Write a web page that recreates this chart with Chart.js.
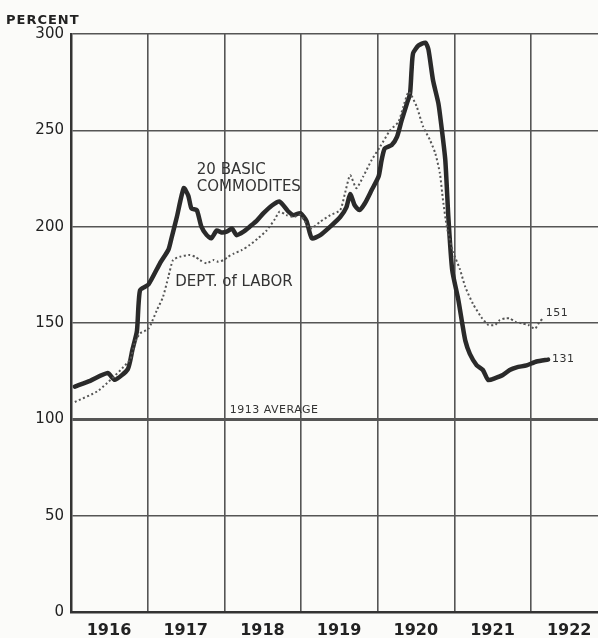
<!DOCTYPE html>
<html>
<head>
<meta charset="utf-8">
<script src="https://cdn.jsdelivr.net/npm/chart.js@4.4.1/dist/chart.umd.min.js"></script>
<style>
  html, body { margin: 0; padding: 0; background: #fbfbf9; }
  #wrap { width: 598px; height: 638px; overflow: hidden; }
</style>
</head>
<body>
<div id="wrap"><canvas id="c" width="598" height="638"></canvas></div>
<script>
// ---- Data ----
const yearTicks = [1916, 1917, 1918, 1919, 1920, 1921, 1922];
const valueTicks = [0, 50, 100, 150, 200, 250, 300];

const commoditiesX = [1916.05, 1916.25, 1916.48, 1916.57, 1916.74, 1916.80, 1916.86, 1916.90, 1917.01, 1917.16, 1917.27, 1917.31, 1917.38, 1917.47, 1917.53, 1917.57, 1917.64, 1917.70, 1917.77, 1917.83, 1917.90, 1917.96, 1918.03, 1918.10, 1918.16, 1918.25, 1918.33, 1918.42, 1918.51, 1918.62, 1918.72, 1918.83, 1918.90, 1918.99, 1919.07, 1919.14, 1919.25, 1919.38, 1919.51, 1919.59, 1919.64, 1919.70, 1919.76, 1919.83, 1919.92, 1920.01, 1920.05, 1920.09, 1920.18, 1920.25, 1920.31, 1920.38, 1920.42, 1920.44, 1920.46, 1920.53, 1920.62, 1920.66, 1920.72, 1920.79, 1920.83, 1920.88, 1920.92, 1920.97, 1921.05, 1921.10, 1921.14, 1921.20, 1921.29, 1921.37, 1921.44, 1921.53, 1921.63, 1921.72, 1921.81, 1921.94, 1922.07, 1922.22];
const commoditiesY = [117, 120, 124, 120.5, 126, 136, 146, 167, 170, 181, 188, 194, 205, 220, 216, 209.5, 208.6, 200, 195.6, 194, 198, 197, 197.4, 199, 195.6, 197.4, 200, 203, 207, 211, 213, 208, 206, 207, 203, 194, 195.6, 200, 205, 210, 217, 211, 208.6, 212, 219, 226, 234.6, 240.6, 242.3, 246.6, 255, 264, 269, 281, 290, 294, 295.5, 292, 276, 264, 252, 234.6, 205, 177.5, 162, 150, 141, 134, 128, 125.6, 120.4, 121.4, 123, 125.6, 127, 128, 130, 131];

const laborX = [1916.05, 1916.36, 1916.77, 1916.83, 1916.90, 1917.01, 1917.12, 1917.20, 1917.27, 1917.33, 1917.42, 1917.55, 1917.62, 1917.68, 1917.77, 1917.86, 1917.92, 1917.99, 1918.05, 1918.12, 1918.23, 1918.33, 1918.44, 1918.55, 1918.66, 1918.72, 1918.81, 1918.90, 1918.99, 1919.12, 1919.25, 1919.38, 1919.51, 1919.57, 1919.64, 1919.72, 1919.81, 1919.92, 1920.03, 1920.16, 1920.27, 1920.33, 1920.40, 1920.44, 1920.51, 1920.59, 1920.68, 1920.75, 1920.81, 1920.85, 1920.90, 1920.98, 1921.07, 1921.14, 1921.24, 1921.35, 1921.44, 1921.53, 1921.59, 1921.66, 1921.72, 1921.79, 1921.88, 1921.96, 1922.05, 1922.11, 1922.16];
const laborY = [109, 115, 131, 139.4, 144.6, 147, 156.7, 163.6, 174, 182.7, 184.4, 185.3, 184.4, 182.7, 181, 182.7, 181.8, 182.7, 184.4, 186, 187.9, 190.5, 194, 198, 204, 207.8, 206, 205, 206, 199, 202.6, 206, 208.6, 217, 226.7, 220, 226, 234.6, 241.5, 250, 254.4, 262, 270, 268, 262, 252, 245, 238, 227.6, 213.8, 200, 187, 178, 168.8, 160, 153, 149, 149, 151.5, 152.4, 152.4, 150.7, 149.8, 149, 147, 150.7, 152.4];

// text annotations: [text, x (year), y (value)]
const notes = [
  ["20 BASIC", 1917.64, 229.5, 15],
  ["COMMODITES", 1917.64, 220.5, 15],
  ["DEPT. of LABOR", 1917.36, 171, 15],
  ["1913 AVERAGE", 1918.07, 105, 11],
  ["151", 1922.19, 155, 11],
  ["131", 1922.27, 131.5, 11]
];

const toPts = (xs, ys) => xs.map((x, i) => ({ x: x, y: ys[i] }));
const INK = '#2a2a2a';
const GRID = '#555';
const FONT = "'DejaVu Sans', 'Liberation Sans', sans-serif";

const notesPlugin = {
  id: 'notes',
  afterDatasetsDraw(chart) {
    const ctx = chart.ctx;
    const xs = chart.scales.x, ys = chart.scales.y;
    ctx.save();
    ctx.fillStyle = '#333';
    ctx.textBaseline = 'middle';
    ctx.textAlign = 'left';
    notes.forEach(([t, x, y, size]) => {
      ctx.font = size + 'px ' + FONT;
      ctx.letterSpacing = size < 13 ? '0.5px' : '0px';
      ctx.fillText(t, xs.getPixelForValue(x), ys.getPixelForValue(y));
    });
    ctx.letterSpacing = '1px';
    ctx.font = 'bold 13px ' + FONT;
    ctx.fillStyle = '#222';
    ctx.fillText('PERCENT', 6, 21);
    ctx.restore();
  }
};

new Chart(document.getElementById('c'), {
  type: 'line',
  data: {
    datasets: [
      {
        label: 'Dept. of Labor',
        data: toPts(laborX, laborY),
        borderColor: '#555',
        borderWidth: 2,
        borderDash: [2, 2.5],
        pointRadius: 0,
        tension: 0.2,
        fill: false
      },
      {
        label: '20 Basic Commodities',
        data: toPts(commoditiesX, commoditiesY),
        borderColor: INK,
        borderWidth: 4.5,
        pointRadius: 0,
        tension: 0.2,
        fill: false,
        borderJoinStyle: 'round',
        borderCapStyle: 'round'
      }
    ]
  },
  options: {
    responsive: false,
    animation: false,
    events: [],
    layout: { padding: { top: 34, right: 0, left: 0, bottom: 0 } },
    plugins: { legend: { display: false }, tooltip: { enabled: false }, title: { display: false } },
    scales: {
      x: {
        type: 'linear',
        min: 1916,
        max: 1922.871,
        afterBuildTicks: (s) => { s.ticks = yearTicks.map(v => ({ value: v })); },
        afterFit: (s) => { s.height = 26; },
        grid: { color: GRID, lineWidth: 1.6, drawTicks: false },
        border: { display: true, color: '#333', width: 2.5 },
        ticks: {
          autoSkip: false,
          maxRotation: 0,
          labelOffset: 38,
          padding: 9,
          color: '#222',
          font: { family: FONT, size: 16, weight: 'bold' },
          callback: (v) => String(v)
        }
      },
      y: {
        min: 0,
        max: 300,
        afterBuildTicks: (s) => { s.ticks = valueTicks.map(v => ({ value: v })); },
        afterFit: (s) => { s.width = 71; },
        grid: {
          color: GRID,
          lineWidth: (c) => (c.tick && c.tick.value === 100 ? 3 : 1.6),
          drawTicks: false
        },
        border: { display: true, color: '#333', width: 2.5 },
        ticks: {
          padding: 7,
          color: '#222',
          font: { family: FONT, size: 15 },
          callback: (v) => String(v)
        }
      }
    }
  },
  plugins: [notesPlugin]
});
</script>
</body>
</html>
